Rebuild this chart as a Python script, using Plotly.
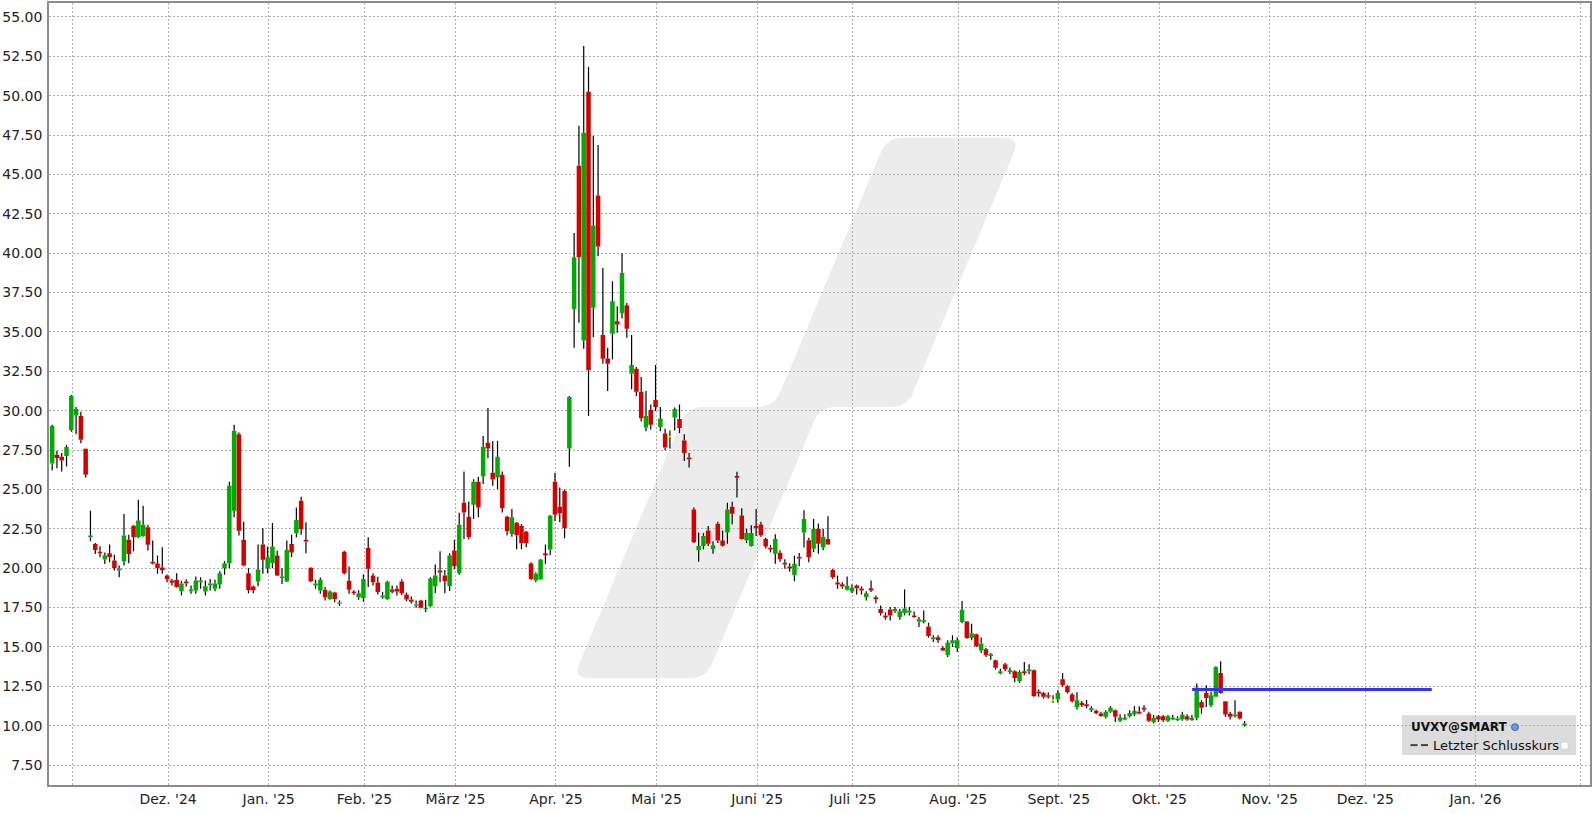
import math
import pandas as pd
import plotly.graph_objects as go

# ---------------- data ----------------
holidays = ["2024-11-28", "2024-12-25", "2025-01-01", "2025-01-09", "2025-01-20",
            "2025-02-17", "2025-04-18", "2025-05-26", "2025-06-19", "2025-07-04",
            "2025-09-01"]
dates = pd.bdate_range("2024-10-28", "2025-10-27", freq="C", holidays=holidays)

open_ = [26.65, 27.20, 27.07, 27.13, 28.78, 29.69, 29.67, 27.58, 21.96, 21.54,
         21.05, 20.55, 20.95, 20.48, 19.87, 20.44, 21.81, 22.70, 21.96, 22.02,
         22.60, 20.40, 20.29, 20.04, 19.53, 19.22, 19.26, 18.54, 19.15, 18.54,
         18.58, 19.11, 18.52, 18.92, 18.70, 18.96, 20.00, 20.31, 23.65, 28.50,
         21.81, 19.68, 18.84, 19.15, 21.50, 20.00, 20.31, 20.80, 19.37, 19.15,
         21.54, 22.22, 24.28, 21.81, 20.02, 18.90, 18.58, 18.63, 18.05, 18.46,
         17.74, 21.05, 19.20, 18.52, 18.16, 18.10, 21.28, 19.53, 19.09, 18.16,
         18.03, 18.65, 18.69, 19.15, 18.33, 18.01, 17.61, 17.95, 17.40, 17.59,
         18.86, 19.85, 19.53, 18.86, 21.12, 19.68, 24.16, 23.27, 24.03, 25.49,
         25.82, 27.96, 26.06, 25.76, 25.93, 23.27, 22.17, 22.89, 22.70, 22.32,
         20.29, 19.22, 19.28, 20.95, 21.18, 25.49, 23.90, 24.90, 27.60, 36.46,
         45.56, 34.46, 50.25, 36.53, 43.66, 34.80, 33.32, 34.88, 35.68, 36.21,
         36.70, 32.35, 32.66, 31.19, 28.93, 30.05, 30.68, 28.97, 28.55, 28.32,
         29.57, 29.48, 28.10, 27.03, 23.72, 21.14, 21.41, 22.39, 21.21, 22.82,
         21.75, 22.27, 23.90, 25.85, 23.34, 21.77, 21.41, 22.68, 22.77, 21.86,
         21.30, 20.91, 20.98, 20.35, 20.10, 19.55, 20.73, 22.27, 21.77, 21.23,
         22.50, 21.32, 21.86, 19.89, 19.09, 18.98, 18.63, 18.52, 18.90, 18.71,
         18.16, 18.73, 18.16, 17.40, 17.00, 17.38, 17.27, 16.90, 17.15, 17.19,
         17.00, 16.62, 16.58, 16.30, 15.48, 15.61, 14.93, 14.49, 15.21, 14.93,
         16.58, 16.62, 15.56, 15.80, 14.78, 14.85, 14.42, 14.15, 13.33, 13.90,
         13.39, 13.45, 12.84, 13.45, 13.45, 13.52, 12.17, 12.08, 11.93, 11.57,
         11.68, 12.95, 12.50, 11.98, 11.17, 11.45, 11.36, 10.98, 10.94, 10.77,
         10.56, 10.88, 10.98, 10.31, 10.39, 10.60, 10.71, 10.88, 11.13, 10.77,
         10.22, 10.60, 10.60, 10.31, 10.39, 10.35, 10.39, 10.60, 10.35, 10.50,
         11.51, 12.08, 11.30, 11.83, 13.35, 11.55, 10.77, 10.60, 10.88, 10.03]

high = [29.10, 27.45, 27.32, 27.83, 31.00, 30.24, 29.94, 27.60, 23.65, 21.60,
        21.39, 21.00, 21.50, 20.86, 20.17, 23.44, 22.13, 22.74, 24.35, 23.97,
        22.76, 21.75, 20.80, 21.33, 19.60, 19.32, 19.68, 19.20, 19.30, 18.90,
        19.47, 19.43, 19.22, 19.32, 19.26, 19.81, 20.44, 25.48, 29.10, 28.61,
        22.95, 20.00, 18.90, 21.50, 22.53, 21.37, 22.87, 21.10, 20.00, 21.75,
        22.13, 23.86, 24.53, 22.91, 20.06, 19.26, 19.40, 18.80, 18.60, 18.50,
        17.95, 21.10, 20.10, 18.60, 18.60, 19.60, 21.96, 19.68, 19.45, 18.50,
        19.20, 18.90, 18.90, 19.30, 18.45, 18.20, 17.95, 17.99, 17.99, 19.43,
        20.23, 21.07, 19.89, 20.95, 21.79, 23.52, 26.14, 24.24, 25.65, 25.80,
        28.40, 30.17, 28.08, 28.08, 26.14, 23.33, 23.75, 22.93, 22.80, 22.38,
        20.38, 19.74, 20.59, 21.50, 23.38, 26.04, 25.13, 25.00, 30.93, 41.28,
        48.10, 53.16, 51.83, 47.46, 46.87, 39.06, 33.99, 38.22, 36.63, 40.00,
        36.84, 34.80, 32.77, 32.14, 31.25, 30.40, 32.90, 30.24, 28.85, 28.74,
        30.20, 30.39, 28.51, 27.31, 23.86, 22.27, 22.23, 22.68, 21.71, 22.95,
        22.39, 24.15, 24.22, 26.13, 23.81, 22.50, 22.73, 23.75, 22.95, 21.93,
        21.48, 22.16, 21.14, 20.57, 20.32, 20.80, 20.96, 23.68, 21.93, 23.13,
        22.84, 22.50, 23.29, 19.96, 19.53, 19.11, 19.47, 18.96, 18.96, 18.84,
        18.54, 19.22, 18.27, 17.63, 17.19, 17.53, 17.53, 17.42, 18.65, 17.53,
        17.25, 16.90, 17.32, 16.54, 15.74, 15.74, 15.04, 15.42, 15.74, 15.59,
        17.91, 16.65, 16.47, 15.84, 15.59, 14.93, 14.61, 14.19, 13.62, 13.98,
        13.69, 13.52, 13.52, 14.05, 13.90, 13.56, 12.29, 12.15, 12.12, 11.93,
        12.25, 13.35, 12.57, 12.08, 12.12, 11.57, 11.62, 11.24, 11.03, 10.88,
        10.98, 11.24, 11.03, 10.73, 10.73, 10.98, 11.24, 11.24, 11.30, 10.88,
        10.67, 10.67, 10.67, 10.67, 10.67, 10.60, 10.88, 10.73, 10.67, 12.67,
        11.62, 12.57, 12.14, 13.77, 14.09, 11.55, 10.88, 11.62, 10.92, 10.29]

low = [26.20, 26.35, 26.14, 26.46, 28.67, 28.50, 27.93, 25.76, 21.71, 20.90,
       20.69, 20.27, 20.38, 19.85, 19.43, 20.17, 20.31, 21.07, 21.90, 22.00,
       21.12, 20.23, 19.64, 19.64, 19.11, 18.90, 18.78, 18.27, 18.84, 18.37,
       18.37, 18.69, 18.27, 18.58, 18.54, 18.69, 19.58, 20.00, 23.23, 22.07,
       20.13, 18.40, 18.40, 18.86, 19.64, 19.68, 20.00, 19.50, 19.00, 19.10,
       20.70, 21.96, 22.13, 20.95, 19.11, 18.69, 18.37, 17.95, 17.99, 17.84,
       17.60, 19.60, 18.37, 18.30, 18.00, 17.86, 18.80, 18.90, 18.33, 18.05,
       17.99, 18.40, 18.27, 18.30, 17.90, 17.75, 17.48, 17.44, 17.20, 17.55,
       18.43, 19.11, 18.40, 18.55, 19.93, 19.58, 21.85, 21.83, 23.12, 23.23,
       25.34, 26.98, 25.23, 25.02, 23.54, 22.07, 22.00, 21.20, 21.20, 21.33,
       19.26, 19.11, 19.26, 20.27, 20.82, 23.00, 22.91, 21.90, 26.44, 33.99,
       35.58, 33.93, 29.67, 34.67, 39.80, 32.98, 31.25, 33.26, 34.95, 35.85,
       34.63, 31.36, 30.93, 29.31, 28.70, 28.80, 29.98, 28.70, 27.49, 27.60,
       28.74, 28.58, 26.81, 26.40, 21.60, 20.41, 21.20, 21.41, 20.91, 21.60,
       21.37, 21.55, 22.77, 24.49, 21.82, 21.60, 21.37, 22.05, 22.00, 21.25,
       21.00, 20.28, 20.41, 19.96, 19.78, 19.17, 20.12, 21.32, 20.37, 21.03,
       20.91, 21.14, 21.48, 19.32, 18.69, 18.69, 18.58, 18.42, 18.33, 18.33,
       17.95, 18.48, 17.78, 17.00, 16.73, 16.68, 17.15, 16.73, 17.00, 17.00,
       16.85, 16.26, 16.51, 15.59, 15.31, 15.27, 14.74, 14.36, 15.00, 14.68,
       16.51, 15.52, 15.42, 14.99, 14.61, 14.36, 14.19, 13.56, 13.26, 13.45,
       13.26, 12.76, 12.71, 13.20, 13.26, 11.83, 11.83, 11.72, 11.72, 11.45,
       11.45, 12.46, 12.04, 11.47, 11.03, 11.19, 11.09, 10.87, 10.73, 10.56,
       10.46, 10.81, 10.24, 10.24, 10.35, 10.52, 10.60, 10.73, 10.88, 10.24,
       10.14, 10.24, 10.24, 10.24, 10.35, 10.30, 10.31, 10.31, 10.31, 10.35,
       10.77, 11.19, 11.19, 11.83, 12.04, 10.56, 10.39, 10.52, 10.39, 9.93]

close = [29.03, 27.00, 26.84, 27.70, 30.93, 30.11, 28.15, 25.93, 22.07, 21.16,
         20.95, 20.82, 20.70, 20.00, 19.98, 22.07, 20.90, 21.96, 23.02, 22.76,
         21.48, 20.29, 20.00, 19.87, 19.30, 19.07, 18.80, 19.03, 19.05, 18.65,
         19.22, 19.22, 18.86, 19.03, 19.03, 19.68, 20.31, 25.23, 28.72, 22.38,
         20.17, 18.60, 18.60, 19.91, 20.53, 20.70, 21.37, 19.53, 19.47, 21.16,
         21.00, 23.06, 22.47, 21.69, 19.17, 19.03, 19.26, 18.16, 18.52, 18.03,
         17.82, 19.68, 18.63, 18.42, 18.41, 19.32, 19.96, 19.11, 18.48, 18.27,
         19.13, 18.50, 18.52, 18.41, 18.01, 17.86, 17.70, 17.48, 17.48, 19.34,
         19.53, 19.72, 19.17, 20.80, 20.13, 22.76, 23.54, 21.96, 25.49, 23.86,
         27.70, 27.60, 25.63, 27.07, 23.80, 22.34, 23.23, 22.11, 21.58, 21.58,
         19.32, 19.64, 20.55, 20.82, 23.33, 23.40, 23.48, 22.53, 30.87, 39.74,
         39.74, 47.65, 32.58, 41.76, 40.43, 33.30, 32.98, 36.95, 35.47, 38.74,
         35.20, 32.90, 31.21, 29.52, 29.67, 29.10, 30.24, 29.50, 27.67, 28.40,
         30.10, 28.90, 27.31, 26.92, 21.64, 21.41, 22.05, 21.55, 21.46, 21.75,
         21.43, 23.72, 23.45, 25.74, 21.86, 22.23, 22.23, 22.55, 22.09, 21.37,
         21.19, 21.86, 20.57, 20.23, 19.98, 20.28, 20.62, 23.13, 20.69, 22.50,
         21.55, 22.00, 21.50, 19.43, 18.96, 18.84, 18.88, 18.75, 18.73, 18.58,
         18.41, 18.58, 18.03, 17.15, 16.87, 17.00, 17.40, 17.27, 17.44, 17.32,
         16.90, 16.75, 16.70, 15.69, 15.61, 15.42, 14.78, 15.27, 15.42, 15.42,
         17.36, 15.56, 15.86, 15.04, 15.21, 14.47, 14.53, 13.67, 13.45, 13.58,
         13.52, 13.03, 13.41, 13.35, 13.58, 11.87, 12.04, 11.83, 11.83, 11.66,
         12.08, 12.57, 12.12, 11.55, 11.62, 11.30, 11.24, 11.11, 10.81, 10.62,
         10.88, 11.13, 10.56, 10.52, 10.50, 10.81, 10.94, 10.77, 11.03, 10.31,
         10.50, 10.39, 10.35, 10.60, 10.50, 10.46, 10.71, 10.39, 10.48, 12.42,
         11.13, 11.76, 11.93, 13.73, 12.08, 10.71, 10.56, 10.71, 10.46, 10.14]

# sessions drawn in yellow (open ~ close)
unchanged_dates = ["2025-05-06", "2025-08-29"]

# horizontal marker line (blue)
level_value = 12.29
level_start = "2025-10-10 13:00"
level_end = "2025-12-19 14:00"

month_ticks = ["2024-11-01", "2024-12-02", "2025-01-02", "2025-02-03", "2025-03-03",
               "2025-04-01", "2025-05-01", "2025-06-02", "2025-07-01", "2025-08-01",
               "2025-09-02", "2025-10-01", "2025-11-03", "2025-12-01", "2026-01-01",
               "2026-02-02"]
month_labels = ["", "Dez. '24", "Jan. '25", "Feb. '25", "März '25", "Apr. '25", "Mai '25",
                "Juni '25", "Juli '25", "Aug. '25", "Sept. '25", "Okt. '25", "Nov. '25",
                "Dez. '25", "Jan. '26", ""]
y_ticks = [7.5, 10, 12.5, 15, 17.5, 20, 22.5, 25, 27.5, 30, 32.5, 35, 37.5, 40,
           42.5, 45, 47.5, 50, 52.5, 55]

# ---------------- styling / layout constants ----------------
W, H = 1596, 813
ML, MR, MT, MB = 49, 6, 1, 28
PW, PH = W - ML - MR, H - MT - MB
GREEN, RED, YELLOW = "#00aa00", "#d40000", "#ffff00"
FONT = "DejaVu Sans"
SESSION_OFFSET = pd.Timedelta(hours=12)   # candles drawn mid-session
GRID_OFFSET = pd.Timedelta(hours=17)      # month grid lines

df = pd.DataFrame({"date": dates, "open": open_, "high": high, "low": low, "close": close})
df["xpos"] = df["date"] + SESSION_OFFSET
df["is_unch"] = df["date"].dt.strftime("%Y-%m-%d").isin(unchanged_dates)
norm = df[~df["is_unch"]]
unch = df[df["is_unch"]]

fig = go.Figure()

fig.add_trace(go.Candlestick(
    x=norm["xpos"], open=norm["open"], high=norm[["open", "close"]].max(axis=1),
    low=norm[["open", "close"]].min(axis=1), close=norm["close"],
    increasing=dict(line=dict(color=GREEN, width=0), fillcolor=GREEN),
    decreasing=dict(line=dict(color=RED, width=0), fillcolor=RED),
    showlegend=False, hoverinfo="skip"))

fig.add_trace(go.Candlestick(
    x=unch["xpos"], open=unch["open"], high=unch[["open", "close"]].max(axis=1),
    low=unch[["open", "close"]].min(axis=1), close=unch["close"],
    increasing=dict(line=dict(color=YELLOW, width=0), fillcolor=YELLOW),
    decreasing=dict(line=dict(color=YELLOW, width=0), fillcolor=YELLOW),
    showlegend=False, hoverinfo="skip"))

# wicks (split so they never cross the bodies)
wx, wy = [], []
for d, o, h, l, c in zip(df["xpos"], df["open"], df["high"], df["low"], df["close"]):
    top, bot = max(o, c), min(o, c)
    if h > top:
        wx += [d, d, None]
        wy += [h, top, None]
    if l < bot:
        wx += [d, d, None]
        wy += [bot, l, None]
fig.add_trace(go.Scatter(x=wx, y=wy, mode="lines", line=dict(color="#000000", width=1.2),
                         showlegend=False, hoverinfo="skip", connectgaps=False))

fig.add_trace(go.Scatter(x=[level_start, level_end], y=[level_value, level_value], mode="lines",
                         line=dict(color="#3232ff", width=3), showlegend=False, hoverinfo="skip"))


def px(x):
    return (x - ML) / PW


def py(y):
    return (MT + PH - y) / PH


def rounded_path(pts, r):
    segs = []
    n = len(pts)
    for i in range(n):
        p, v, nx = pts[i - 1], pts[i], pts[(i + 1) % n]

        def toward(a, b, d):
            dx, dy = b[0] - a[0], b[1] - a[1]
            L = math.hypot(dx, dy)
            t = min(d, L / 2) / L
            return (a[0] + dx * t, a[1] + dy * t)
        segs.append((toward(v, p, r), v, toward(v, nx, r)))

    def P(q):
        return f"{px(q[0]):.5f},{py(q[1]):.5f}"
    s = f"M {P(segs[0][0])}"
    for i, (a, v, b) in enumerate(segs):
        if i > 0:
            s += f" L {P(a)}"
        s += f" Q {P(v)} {P(b)}"
    return s + " Z"


logo_pts = [(573, 678), (687, 406), (774, 406), (887, 136), (1020, 136),
            (907, 406), (820, 406), (706, 678)]
shapes = [
    dict(type="path", xref="paper", yref="paper", path=rounded_path(logo_pts, 16),
         fillcolor="#ececec", line=dict(width=0), layer="below"),
    # legend box
    dict(type="rect", xref="paper", yref="paper", x0=px(1402), x1=px(1576), y0=py(755), y1=py(715),
         fillcolor="#dcdcdc", line=dict(width=0), layer="below"),
    dict(type="circle", xref="paper", yref="paper", x0=px(1511.5), x1=px(1518.5), y0=py(730.5),
         y1=py(723.5), fillcolor="#6a9ad8", line=dict(color="#2f5f9f", width=0.8), layer="above"),
    dict(type="line", xref="paper", yref="paper", x0=px(1410.5), x1=px(1417.5), y0=py(745), y1=py(745),
         line=dict(color="#444444", width=2), layer="above"),
    dict(type="line", xref="paper", yref="paper", x0=px(1421), x1=px(1428), y0=py(745), y1=py(745),
         line=dict(color="#444444", width=2), layer="above"),
    dict(type="rect", xref="paper", yref="paper", x0=px(1561), x1=px(1568), y0=py(749), y1=py(742),
         fillcolor="#ffffff", line=dict(color="#c8c8c8", width=0.6), layer="above"),
]

annotations = [
    dict(xref="paper", yref="paper", x=px(1409), y=py(727), text="<b>UVXY@SMART</b>",
         showarrow=False, xanchor="left", yanchor="middle", font=dict(family=FONT, size=12, color="#111")),
    dict(xref="paper", yref="paper", x=px(1431), y=py(745), text="Letzter Schlusskurs",
         showarrow=False, xanchor="left", yanchor="middle", font=dict(family=FONT, size=13, color="#111")),
]

fig.update_layout(
    width=W, height=H, margin=dict(l=ML, r=MR, t=MT, b=MB, pad=0),
    paper_bgcolor="white", plot_bgcolor="white",
    boxgap=0.06, boxgroupgap=0, showlegend=False, hovermode=False,
    shapes=shapes, annotations=annotations,
    font=dict(family=FONT, size=14, color="#222222"),
)
tick_positions = [pd.Timestamp(t) + GRID_OFFSET for t in month_ticks]
fig.update_xaxes(
    type="date", range=["2024-10-25 20:14", "2026-02-04 15:00"],
    rangebreaks=[dict(bounds=["sat", "mon"]), dict(values=holidays)],
    tickvals=tick_positions, ticktext=month_labels,
    showgrid=True, gridcolor="#b0b0b0", griddash="2px,2px", gridwidth=1,
    showline=True, mirror=True, linecolor="#8c8c8c", linewidth=1.5,
    ticks="", rangeslider=dict(visible=False), zeroline=False,
    tickfont=dict(family=FONT, size=14, color="#222222"),
)
fig.update_yaxes(
    range=[6.232, 55.887], tickvals=y_ticks, tickformat=".2f",
    showgrid=True, gridcolor="#b0b0b0", griddash="2px,2px", gridwidth=1,
    showline=True, mirror=True, linecolor="#8c8c8c", linewidth=1.5,
    ticks="outside", ticklen=2, tickcolor="rgba(0,0,0,0)", zeroline=False,
    tickfont=dict(family=FONT, size=14, color="#222222"),
)

fig.write_html("out.html", config={"displayModeBar": False},
               post_script="document.body.style.margin='0';document.body.style.overflow='hidden';")
